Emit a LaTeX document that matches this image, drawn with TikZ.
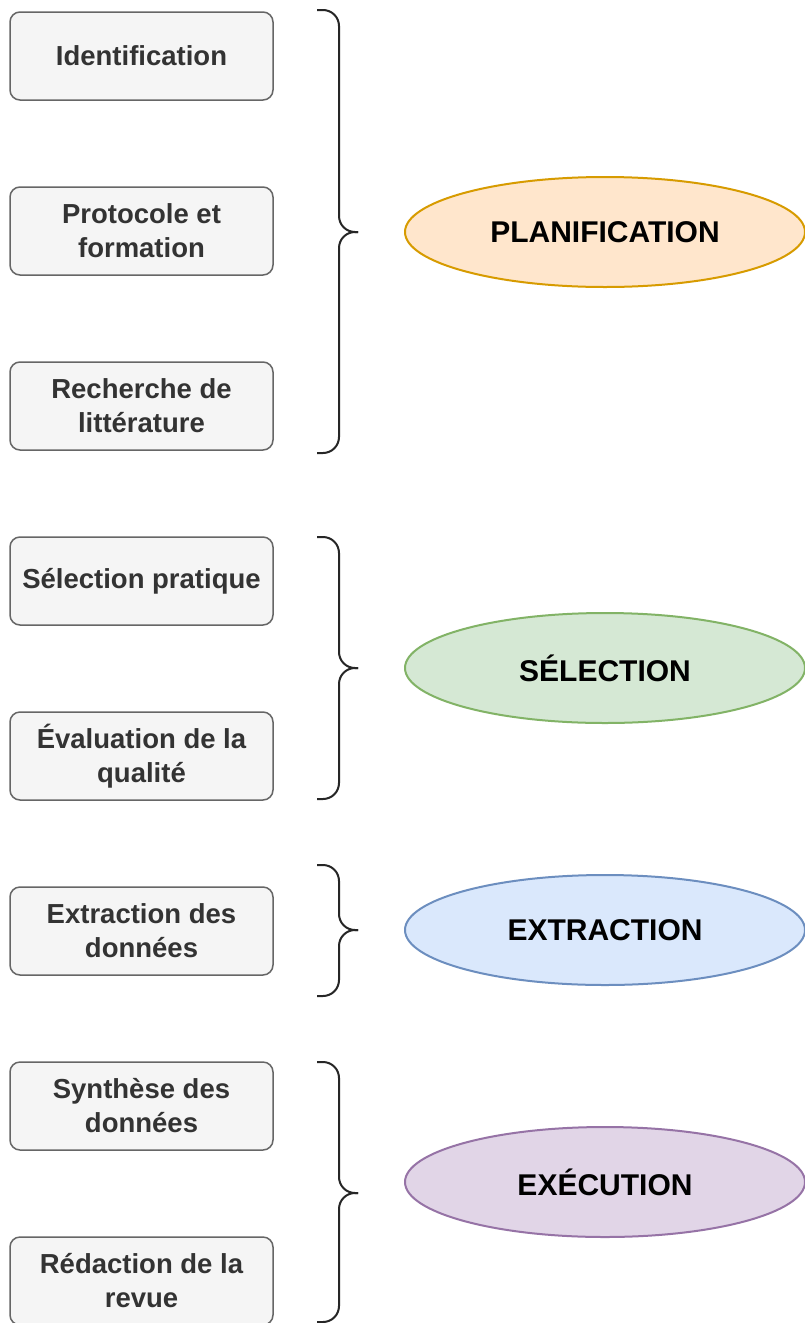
\documentclass[tikz,border=0pt]{standalone}
\usepackage{fontspec}
\setmainfont{Liberation Sans}
\usetikzlibrary{shapes.geometric}
\definecolor{boxfill}{HTML}{F5F5F5}
\definecolor{boxline}{HTML}{666666}
\definecolor{boxtext}{HTML}{333333}
\definecolor{orfill}{HTML}{FFE6CC}\definecolor{orline}{HTML}{D79B00}
\definecolor{grfill}{HTML}{D5E8D4}\definecolor{grline}{HTML}{82B366}
\definecolor{blfill}{HTML}{DAE8FC}\definecolor{blline}{HTML}{6C8EBF}
\definecolor{pufill}{HTML}{E1D5E7}\definecolor{puline}{HTML}{9673A6}
\tikzset{
  stepbox/.style={draw=boxline, fill=boxfill, line width=1.5pt, rounded corners=10pt,
    minimum width=263pt, minimum height=88pt, inner sep=0pt, align=center,
    text=boxtext, font=\fontsize{27.5}{34}\selectfont\bfseries},
  phase/.style={ellipse, line width=2pt, minimum width=400pt, minimum height=110pt,
    inner sep=0pt, text=black, font=\fontsize{30}{36}\selectfont\bfseries},
  bracepath/.style={draw=black!85, line width=2pt, rounded corners=16pt}
}
\begin{document}
\begin{tikzpicture}[x=1pt,y=-1pt]
\useasboundingbox (0,0) rectangle (805,1323);
\fill[white] (0,0) rectangle (805,1323);
\node[stepbox] (b1) at (141.5,56) {Identification};
\node[stepbox] (b2) at (141.5,231) {Protocole et\\formation};
\node[stepbox] (b3) at (141.5,406) {Recherche de\\littérature};
\node[stepbox] (b4) at (141.5,581) {Sélection pratique};
\node[stepbox] (b5) at (141.5,756) {Évaluation de la\\qualité};
\node[stepbox] (b6) at (141.5,931) {Extraction des\\données};
\node[stepbox] (b7) at (141.5,1106) {Synthèse des\\données};
\node[stepbox] (b8) at (141.5,1281) {Rédaction de la\\revue};

\node[phase, draw=orline, fill=orfill] (p1) at (605,232) {PLANIFICATION};
\node[phase, draw=grline, fill=grfill] (p2) at (605,668) {SÉLECTION};
\node[phase, draw=blline, fill=blfill] (p3) at (605,930) {EXTRACTION};
\node[phase, draw=puline, fill=pufill] (p4) at (605,1182) {EXÉCUTION};

% braces
\draw[bracepath] (317,10) -- (339,10) -- (339,232) -- (358,232);
\draw[bracepath] (358,232) -- (339,232) -- (339,453) -- (317,453);
\draw[bracepath] (317,537) -- (339,537) -- (339,668) -- (358,668);
\draw[bracepath] (358,668) -- (339,668) -- (339,799) -- (317,799);
\draw[bracepath] (317,865) -- (339,865) -- (339,930) -- (358,930);
\draw[bracepath] (358,930) -- (339,930) -- (339,996) -- (317,996);
\draw[bracepath] (317,1062) -- (339,1062) -- (339,1193) -- (358,1193);
\draw[bracepath] (358,1193) -- (339,1193) -- (339,1322) -- (317,1322);
\end{tikzpicture}
\end{document}
